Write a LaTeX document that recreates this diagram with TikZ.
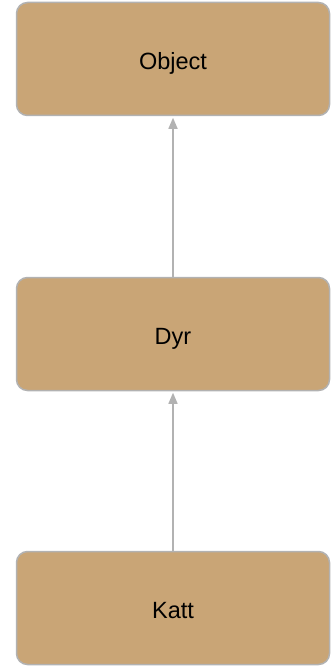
\documentclass[tikz,border=0pt]{standalone}
\usepackage{fontspec}
\setmainfont{Liberation Sans}
\usetikzlibrary{arrows.meta}
\definecolor{boxfill}{RGB}{201,165,118}
\definecolor{boxline}{RGB}{178,178,178}
\definecolor{arrowc}{RGB}{178,178,178}
\tikzset{
  cls/.style={draw=boxline, line width=1.5pt, fill=boxfill, rounded corners=11pt,
    minimum width=313pt, minimum height=113pt, inner sep=0pt,
    text height=20.8pt, text depth=0pt,
    font=\fontsize{23.5}{28}\selectfont, text=black},
  inherit/.style={draw=arrowc, line width=1.5pt, shorten >=1.5pt,
    -{Triangle[length=11pt,width=9pt]}}
}
\begin{document}
\begin{tikzpicture}[x=1pt,y=-1pt]
\useasboundingbox (0,0) rectangle (331,666);
\node[cls] (obj) at (173,59) {Object};
\node[cls] (dyr) at (173,334) {Dyr};
\node[cls] (katt) at (173,608) {Katt};
\draw[inherit] (dyr.north) -- (obj.south);
\draw[inherit] (katt.north) -- (dyr.south);
\end{tikzpicture}
\end{document}
